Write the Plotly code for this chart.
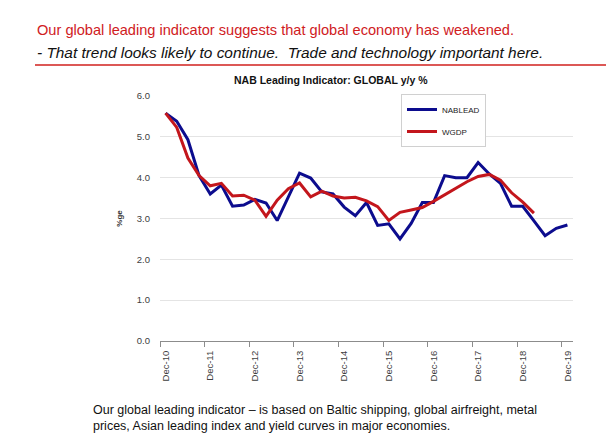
import plotly.graph_objects as go

# ---------------- data ----------------
months = ["Mar", "Jun", "Sep", "Dec"]
quarters = ["Dec-10"] + [f"{m}-{y:02d}" for y in range(11, 20) for m in months]  # Dec-10 .. Dec-19

nablead = [5.58, 5.38, 4.93, 4.05, 3.60, 3.82, 3.30, 3.33, 3.47, 3.38,
           2.95, 3.55, 4.11, 3.99, 3.65, 3.60, 3.28, 3.07, 3.39, 2.83,
           2.87, 2.50, 2.88, 3.39, 3.39, 4.05, 4.00, 4.00, 4.37, 4.09,
           3.86, 3.30, 3.30, 2.94, 2.58, 2.76, 2.84]

wgdp = [5.58, 5.23, 4.48, 4.05, 3.80, 3.86, 3.55, 3.57, 3.45, 3.05,
        3.45, 3.73, 3.87, 3.53, 3.67, 3.55, 3.50, 3.52, 3.43, 3.29,
        2.95, 3.15, 3.21, 3.27, 3.42, 3.58, 3.73, 3.90, 4.03, 4.08,
        3.94, 3.63, 3.40, 3.13]

tick_labels = ["Dec-10", "Dec-11", "Dec-12", "Dec-13", "Dec-14",
               "Dec-15", "Dec-16", "Dec-17", "Dec-18", "Dec-19"]
y_ticks = [0, 1, 2, 3, 4, 5, 6]

title_main = "Our global leading indicator suggests that global economy has weakened."
title_sub = "- That trend looks likely to continue.  Trade and technology important here."
chart_title = "<b>NAB Leading Indicator: GLOBAL y/y %</b>"
footer_1 = "Our global leading indicator \u2013 is based on Baltic shipping, global airfreight, metal"
footer_2 = "prices, Asian leading index and yield curves in major economies."

# ---------------- layout helpers ----------------
W, H = 614, 436
L, R, T, B = 152, 565, 88, 333
pw, ph = R - L, B - T


def px(x):
    return (x - L) / pw


def py(y):
    return (B - y) / ph


xpos = {q: i for i, q in enumerate(quarters)}

fig = go.Figure()
fig.add_trace(go.Scatter(
    x=[xpos[q] for q in quarters[:len(nablead)]], y=nablead, mode="lines",
    name="NABLEAD", legendgroup="a",
    line=dict(color="#0C0C8E", width=3)))
fig.add_trace(go.Scatter(
    x=[xpos[q] for q in quarters[:len(wgdp)]], y=wgdp, mode="lines",
    name="WGDP", legendgroup="b",
    line=dict(color="#C3161C", width=3)))

font_axis = dict(family="Liberation Sans, Arial, sans-serif", size=9.5, color="#404040")

fig.update_layout(
    width=W, height=H,
    margin=dict(l=L, r=W - R, t=T, b=H - B, pad=0),
    paper_bgcolor="white", plot_bgcolor="white",
    showlegend=True,
    legend=dict(x=px(393), y=py(86), xanchor="left", yanchor="top",
                bordercolor="#D0D0D0", borderwidth=1, bgcolor="white",
                font=dict(family="Liberation Sans, Arial, sans-serif", size=8, color="#222"),
                tracegroupgap=3, itemwidth=30),
    xaxis=dict(
        range=[-0.5, len(quarters) - 0.5],
        tickmode="array",
        tickvals=[xpos[t] for t in tick_labels],
        ticktext=tick_labels,
        tickangle=-90,
        ticks="",
        ticklabelstandoff=5,
        tickfont=font_axis,
        showgrid=False, zeroline=False,
        showline=True, linecolor="#8C8C8C", linewidth=1,
        minor=dict(ticks="outside", tick0=-0.5, dtick=4, ticklen=5,
                   tickcolor="#8C8C8C", tickwidth=1, showgrid=False),
    ),
    yaxis=dict(
        range=[0, 6],
        tickmode="array", tickvals=y_ticks,
        tickformat=".1f",
        ticks="", ticklabelstandoff=9,
        tickfont=font_axis,
        showgrid=True, gridcolor="#E4E4E4", gridwidth=1,
        zeroline=False, showline=False,
        title=dict(text="<b>%ge</b>", standoff=12,
                   font=dict(family="Liberation Sans, Arial, sans-serif", size=8, color="#333")),
    ),
)

annotations = [
    dict(text=title_main, x=px(27), y=py(21.5), xanchor="left", yanchor="middle",
         font=dict(family="Liberation Sans, Arial, sans-serif", size=14.6, color="#D0201E")),
    dict(text="<i>" + title_sub + "</i>", x=px(27), y=py(44), xanchor="left", yanchor="middle",
         font=dict(family="Liberation Sans, Arial, sans-serif", size=15.4, color="#111")),
    dict(text=chart_title, x=px(323), y=py(72.5), xanchor="center", yanchor="middle",
         font=dict(family="Liberation Sans, Arial, sans-serif", size=10.5, color="#111")),
    dict(text=footer_1 + "<br>" + footer_2, x=px(83), y=py(409.5), xanchor="left", yanchor="middle",
         align="left",
         font=dict(family="Liberation Sans, Arial, sans-serif", size=12.5, color="#111")),
]
for a in annotations:
    a.update(xref="paper", yref="paper", showarrow=False)
fig.update_layout(annotations=annotations)

fig.add_shape(type="line", xref="paper", yref="paper",
              x0=px(27), x1=px(W), y0=py(57), y1=py(57),
              line=dict(color="#D0201E", width=1.5))

fig.write_html("out.html")
